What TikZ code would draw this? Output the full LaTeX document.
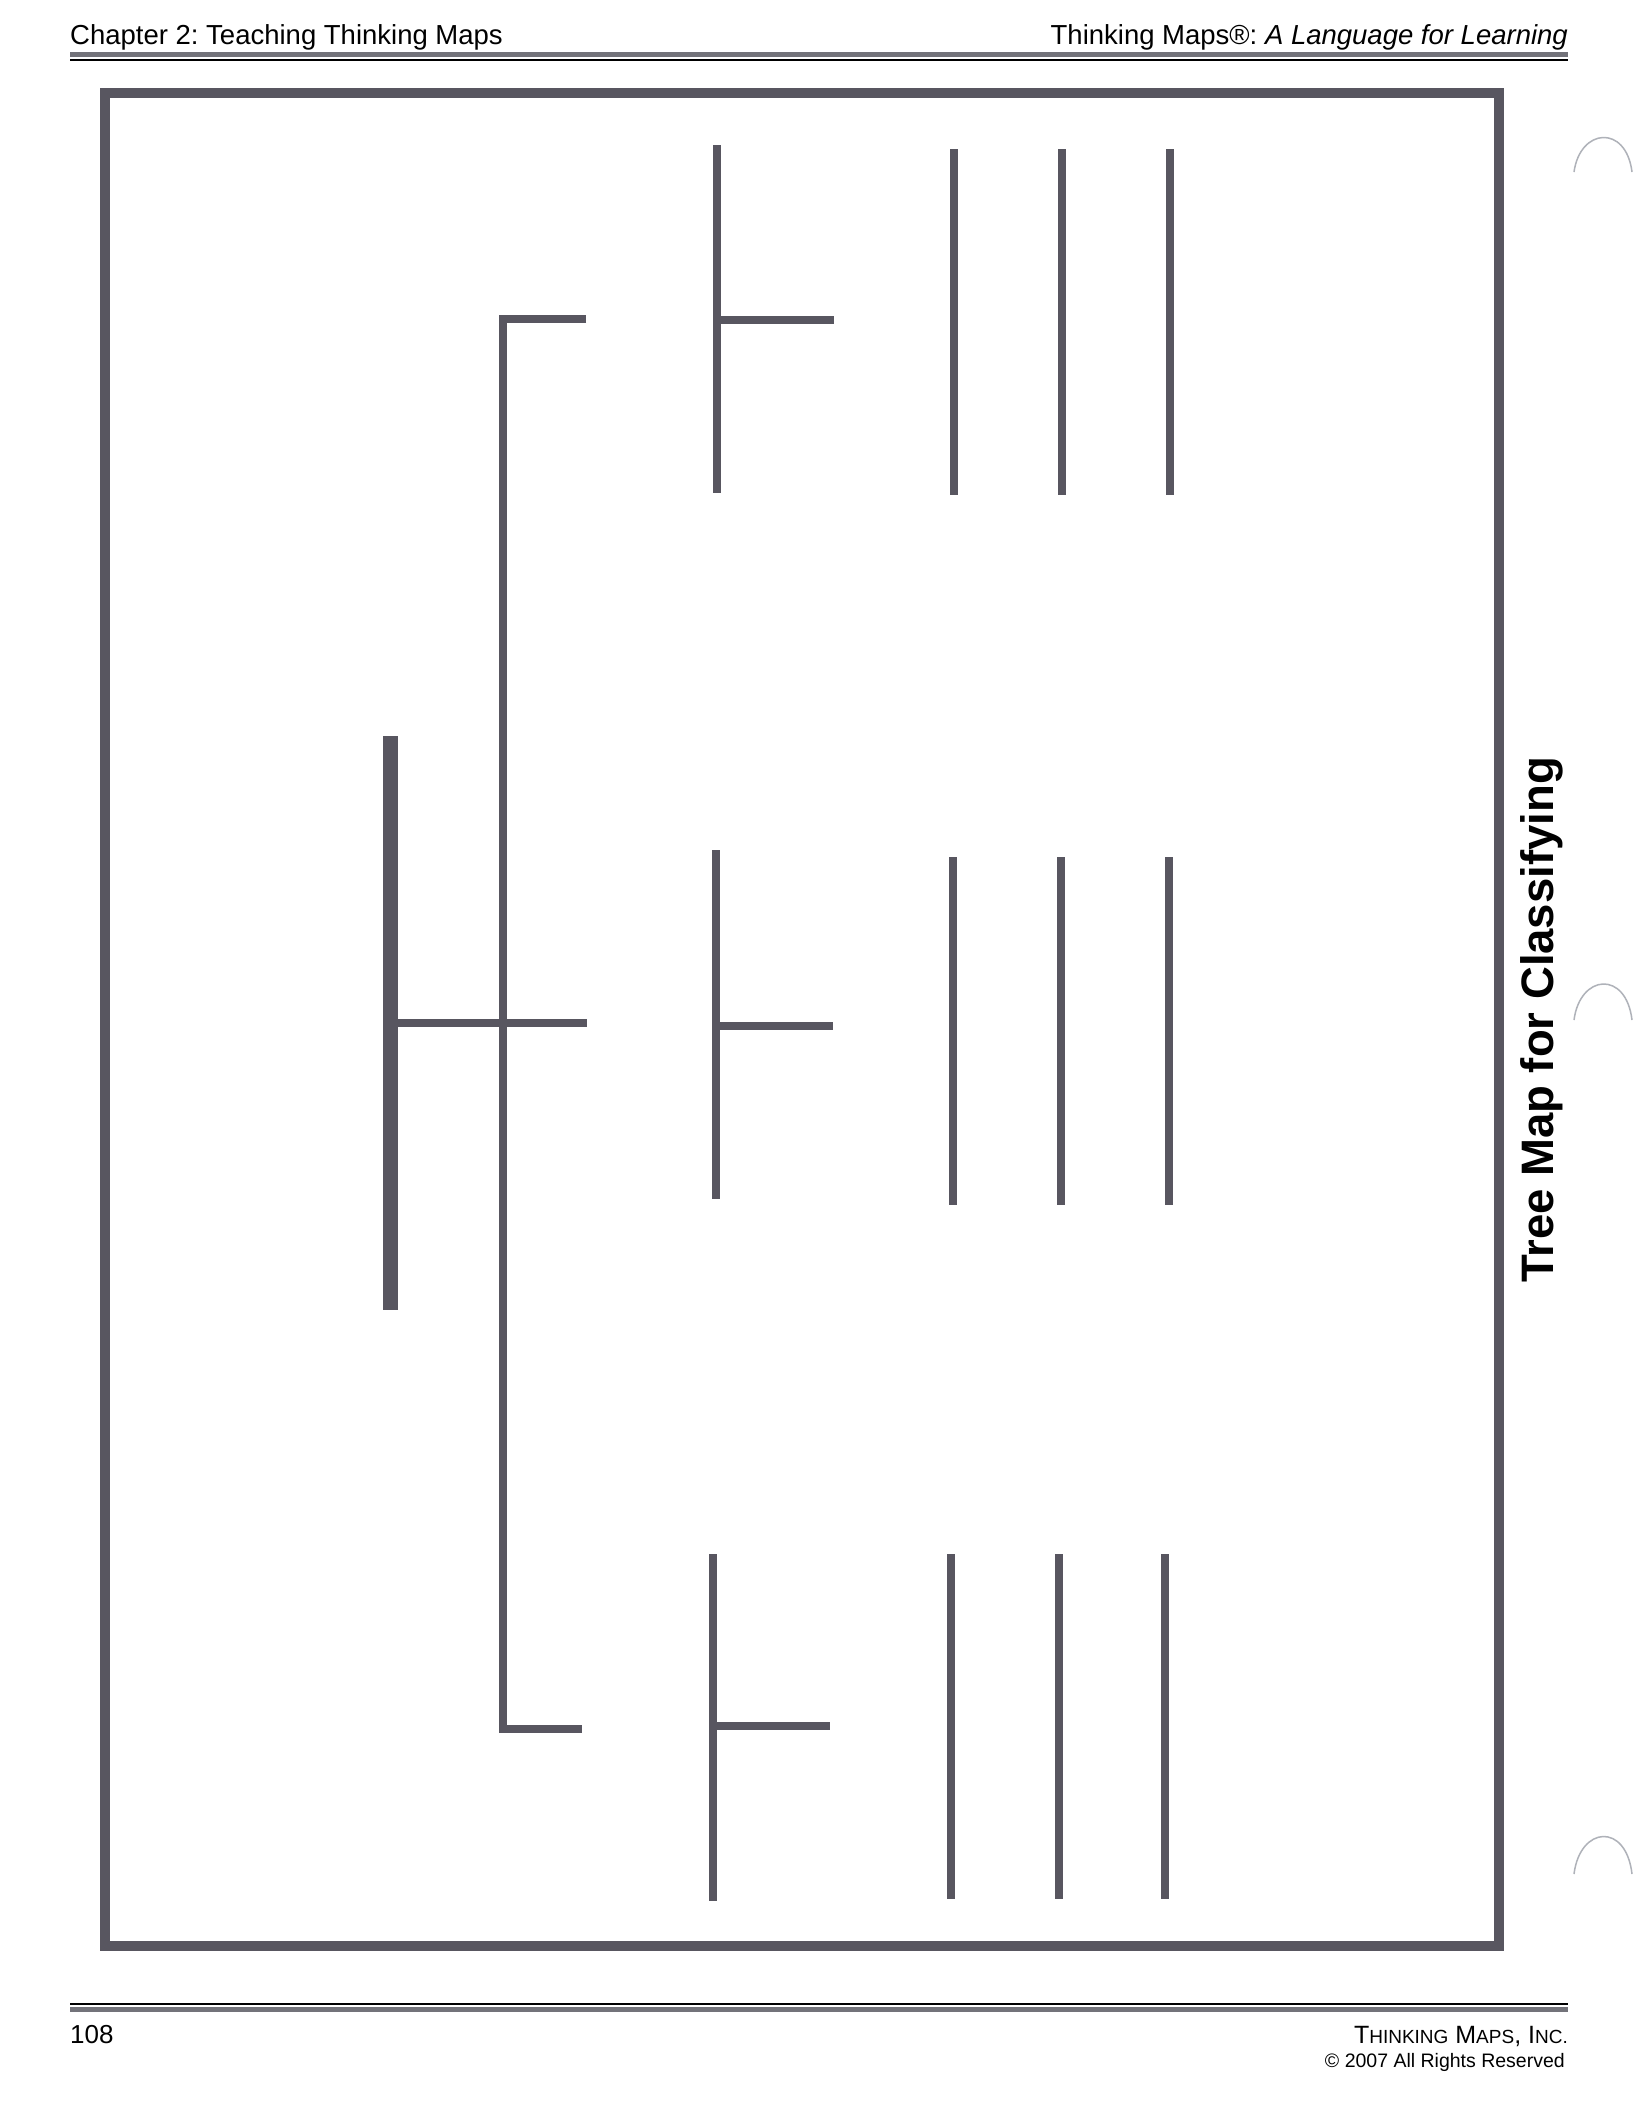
\documentclass[tikz,border=0pt]{standalone}
\usepackage{fontspec}
\setmainfont{Liberation Sans}
\usetikzlibrary{positioning}
\frenchspacing

\definecolor{inkgray}{RGB}{88,86,96}
\definecolor{bandgray}{RGB}{115,115,122}
\definecolor{holegray}{RGB}{175,178,185}

\begin{document}
\begin{tikzpicture}[
    x=1pt, y=-1pt,
    rootbar/.style={line width=15pt, draw=inkgray},
    branch/.style={line width=8pt, draw=inkgray, line join=miter},
    leaf/.style={line width=8pt, draw=inkgray},
    pageframe/.style={line width=10pt, draw=inkgray},
    headtext/.style={inner sep=0pt, font=\fontsize{27.5}{30}\selectfont},
    foottext/.style={inner sep=0pt, font=\fontsize{26}{30}\selectfont}
]
\useasboundingbox[fill=white] (0,0) rectangle (1652,2110);

% header and footer
\node[headtext, anchor=base west] (chapter) at (70,44) {Chapter 2: Teaching Thinking Maps};
\node[headtext, anchor=base east] (booktitle) at (1568,44) {Thinking Maps®: \textit{A Language for Learning}};
\coordinate (hl) at (70,54);
\coordinate (hr) at (1568,54);
\draw[bandgray, line width=5pt] (hl) -- (hr);
\draw[black, line width=2pt] ([yshift=-6pt]hl) -- ([yshift=-6pt]hr);

\coordinate (fl) at (70,2004);
\coordinate (fr) at (1568,2004);
\draw[black, line width=2pt] (fl) -- (fr);
\draw[bandgray, line width=5pt] ([yshift=-5.5pt]fl) -- ([yshift=-5.5pt]fr);
\node[foottext, anchor=base west] (pagenum) at (70,2043) {108};
\node[inner sep=0pt, anchor=base east, font=\fontsize{25}{30}\selectfont] (company) at (1568,2043)
    {T{\fontsize{19}{20}\selectfont HINKING} M{\fontsize{19}{20}\selectfont APS}, I{\fontsize{19}{20}\selectfont NC.}};
\node[inner sep=0pt, anchor=base east, font=\fontsize{19.5}{22}\selectfont] (rights) at (1565,2067) {© 2007 All Rights Reserved};

% binder holes
\draw[holegray, line width=1.5pt] (1574,172) .. controls (1580,128) and (1626,124) .. (1632,172);
\draw[holegray, line width=1.5pt] (1574,1020) .. controls (1580,974) and (1626,970) .. (1632,1020);
\draw[holegray, line width=1.5pt] (1574,1874) .. controls (1580,1826) and (1626,1822) .. (1632,1874);

% frame and side title
\draw[pageframe] (105,93) rectangle (1499,1946);
\node[rotate=90, inner sep=0pt, font=\bfseries\fontsize{45.5}{48}\selectfont] (maptitle) at (1542,1020) {Tree Map for Classifying};

% main topic
\coordinate (root-t) at (390,736);
\coordinate (root-b) at (390,1310);
\draw[rootbar] (root-t) -- (root-b);
\coordinate (root-m) at (390,1023);
\coordinate (mid-in) at (587,1023);
\draw[branch] (root-m) -- (mid-in);

% categories
\coordinate (top-in) at (586,319);
\coordinate (bot-in) at (582,1729);
\draw[branch] (top-in) -- (503,319) -- (503,1729) -- (bot-in);

% top category
\coordinate (a-t) at (717,145);
\coordinate (a-b) at (717,493);
\draw[leaf] (a-t) -- (a-b);
\draw[branch] (717,320) -- (834,320);
\draw[leaf] (954,149) -- (954,495);
\draw[leaf] (1062,149) -- (1062,495);
\draw[leaf] (1170,149) -- (1170,495);

% middle category
\coordinate (b-t) at (716,850);
\coordinate (b-b) at (716,1199);
\draw[leaf] (b-t) -- (b-b);
\draw[branch] (716,1026) -- (833,1026);
\draw[leaf] (953,857) -- (953,1205);
\draw[leaf] (1061,857) -- (1061,1205);
\draw[leaf] (1169,857) -- (1169,1205);

% bottom category
\coordinate (c-t) at (713,1554);
\coordinate (c-b) at (713,1901);
\draw[leaf] (c-t) -- (c-b);
\draw[branch] (713,1726) -- (830,1726);
\draw[leaf] (951,1554) -- (951,1899);
\draw[leaf] (1059,1554) -- (1059,1899);
\draw[leaf] (1165,1554) -- (1165,1899);

\end{tikzpicture}
\end{document}
